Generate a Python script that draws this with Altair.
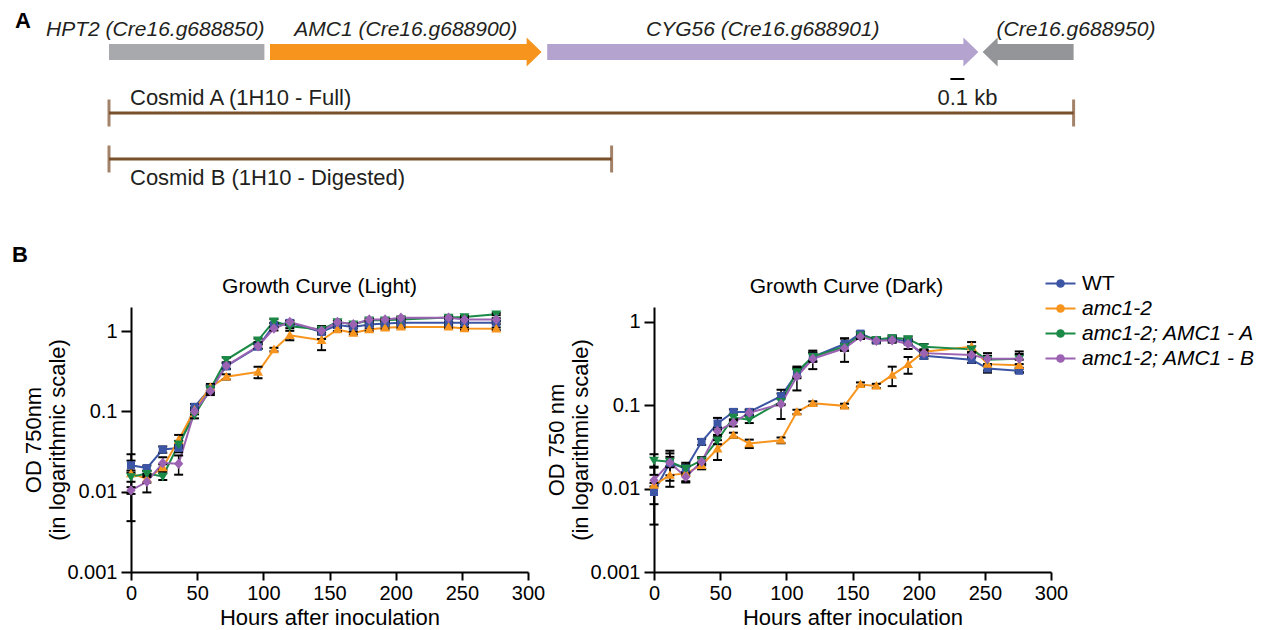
import altair as alt
import pandas as pd

FONT = "Liberation Sans"
INK = "#231F20"
BROWN = "#7A4F2B"

# ---------------- Panel A: gene map (positions in kb) ----------------
gene_names = ["HPT2 (Cre16.g688850)", "AMC1 (Cre16.g688900)",
              "CYG56 (Cre16.g688901)", "(Cre16.g688950)"]
gene_start_kb = [0.0, 1.15, 3.13, 6.24]
gene_end_kb = [1.11, 3.09, 6.21, 6.89]
gene_strand = ["none", "+", "+", "-"]
gene_colors = ["#A7A9AC", "#F7941D", "#B4A3CF", "#939598"]

cosmid_names = ["Cosmid A (1H10 - Full)", "Cosmid B (1H10 - Digested)"]
cosmid_start_kb = [0.0, 0.0]
cosmid_end_kb = [6.89, 3.59]

scalebar_start_kb = [6.01]
scalebar_length_kb = [0.1]
scalebar_label = ["0.1 kb"]

# ---------------- Panel B: growth curves ----------------
hours = [0, 12, 24, 36, 48, 60, 72, 96, 108, 120, 144, 156, 168, 180, 192, 204, 240, 252, 276]
strains = ["WT", "amc1-2", "amc1-2; AMC1 - A", "amc1-2; AMC1 - B"]
strain_colors = ["#3C55A5", "#F7941D", "#1B8A47", "#9C63B3"]

light_wt = [0.0214, 0.0197, 0.0335, 0.035, 0.114, 0.193, 0.366, 0.64, 1.19, 1.27, 0.98, 1.19, 1.13, 1.21, 1.25, 1.27, 1.27, 1.27, 1.27]
light_amc = [0.0168, 0.0145, 0.020, 0.044, 0.104, 0.20, 0.27, 0.31, 0.59, 0.89, 0.77, 1.05, 0.95, 1.05, 1.10, 1.13, 1.13, 1.08, 1.07]
light_a = [0.0153, 0.0168, 0.0155, 0.039, 0.090, 0.19, 0.44, 0.77, 1.33, 1.15, 1.05, 1.30, 1.22, 1.37, 1.37, 1.40, 1.48, 1.50, 1.63]
light_b = [0.0104, 0.0133, 0.0228, 0.0223, 0.100, 0.18, 0.37, 0.65, 1.08, 1.30, 1.01, 1.30, 1.22, 1.40, 1.40, 1.47, 1.47, 1.40, 1.40]

light_wt_sd = [0.003, 0.0015, 0.003, 0.004, 0.01, 0.02, 0.03, 0.04, 0.08, 0.08, 0.18, 0.05, 0.05, 0.05, 0.05, 0.05, 0.05, 0.05, 0.05]
light_amc_sd = [0.0125, 0.0015, 0.002, 0.007, 0.008, 0.02, 0.02, 0.05, 0.03, 0.12, 0.19, 0.05, 0.04, 0.04, 0.04, 0.04, 0.04, 0.04, 0.04]
light_a_sd = [0.002, 0.0015, 0.0015, 0.004, 0.008, 0.02, 0.03, 0.04, 0.08, 0.06, 0.08, 0.05, 0.05, 0.05, 0.05, 0.05, 0.05, 0.05, 0.05]
light_b_sd = [0.001, 0.0035, 0.004, 0.006, 0.008, 0.02, 0.03, 0.04, 0.06, 0.06, 0.10, 0.05, 0.05, 0.05, 0.05, 0.05, 0.05, 0.05, 0.05]

dark_wt = [0.0091, 0.0204, 0.0174, 0.0363, 0.0603, 0.083, 0.083, 0.128, 0.24, 0.38, 0.54, 0.72, 0.60, 0.63, 0.575, 0.39, 0.35, 0.275, 0.258]
dark_amc = [0.011, 0.0145, 0.0152, 0.019, 0.030, 0.0437, 0.0346, 0.038, 0.083, 0.105, 0.098, 0.177, 0.17, 0.229, 0.308, 0.436, 0.50, 0.31, 0.30]
dark_a = [0.0218, 0.021, 0.0174, 0.0218, 0.038, 0.071, 0.067, 0.11, 0.25, 0.38, 0.50, 0.69, 0.61, 0.64, 0.62, 0.50, 0.466, 0.35, 0.36]
dark_b = [0.0126, 0.0204, 0.0138, 0.021, 0.049, 0.0616, 0.081, 0.103, 0.22, 0.36, 0.48, 0.66, 0.59, 0.60, 0.54, 0.42, 0.40, 0.36, 0.36]

dark_wt_sd = [0.0026, 0.006, 0.003, 0.003, 0.01, 0.006, 0.006, 0.025, 0.03, 0.05, 0.09, 0.04, 0.04, 0.04, 0.04, 0.03, 0.03, 0.03, 0.015]
dark_amc_sd = [0.0073, 0.004, 0.003, 0.002, 0.008, 0.003, 0.004, 0.003, 0.005, 0.006, 0.006, 0.01, 0.01, 0.06, 0.07, 0.03, 0.07, 0.05, 0.05]
dark_a_sd = [0.004, 0.003, 0.002, 0.002, 0.004, 0.006, 0.006, 0.01, 0.03, 0.04, 0.05, 0.04, 0.04, 0.04, 0.04, 0.04, 0.04, 0.04, 0.05]
dark_b_sd = [0.002, 0.008, 0.002, 0.002, 0.005, 0.006, 0.006, 0.035, 0.07, 0.09, 0.15, 0.04, 0.04, 0.04, 0.07, 0.03, 0.03, 0.06, 0.08]

# marker glyphs: square, triangle-up, triangle-down, diamond
strain_shapes = [
    "M-0.5,-0.5L0.5,-0.5L0.5,0.5L-0.5,0.5Z",
    "M0,-0.62L0.62,0.46L-0.62,0.46Z",
    "M0,0.62L0.62,-0.46L-0.62,-0.46Z",
    "M0,-0.65L0.58,0L0,0.65L-0.58,0Z",
]
LINE_SYMBOL = "M-1.875,0L1.875,0"

# ---------------- tables ----------------
records = []
for cond, means, sds in [
    ("light", [light_wt, light_amc, light_a, light_b], [light_wt_sd, light_amc_sd, light_a_sd, light_b_sd]),
    ("dark", [dark_wt, dark_amc, dark_a, dark_b], [dark_wt_sd, dark_amc_sd, dark_a_sd, dark_b_sd]),
]:
    for s, m_list, sd_list in zip(strains, means, sds):
        for h, m, sd in zip(hours, m_list, sd_list):
            records.append({"cond": cond, "strain": s, "label": s, "hours": h,
                            "od": m, "lo": m - sd, "hi": m + sd})
growth_df = pd.DataFrame(records)

genes_df = pd.DataFrame({"gene": gene_names, "start": gene_start_kb, "end": gene_end_kb,
                         "strand": gene_strand, "order": list(range(len(gene_names)))})
genes_df["lane"] = "genes"
genes_df["mid"] = (genes_df["start"] + genes_df["end"]) / 2

cosmid_df = pd.DataFrame({"name": cosmid_names, "start": cosmid_start_kb, "end": cosmid_end_kb,
                          "lane": ["cosmidA", "cosmidB"]})

scale_df = pd.DataFrame({"start": scalebar_start_kb,
                         "end": [s + l for s, l in zip(scalebar_start_kb, scalebar_length_kb)],
                         "label": scalebar_label})
scale_df["mid"] = (scale_df["start"] + scale_df["end"]) / 2
scale_df["lane"] = "cosmidA"

# ---------------- Panel A chart ----------------
A_W, A_H = 1000, 185
PX_PER_KB = 140
KB_LEFT = 22 / PX_PER_KB
xA_scale = alt.Scale(domain=[KB_LEFT, KB_LEFT + A_W / PX_PER_KB], nice=False, zero=False)
yA = alt.Y("lane:N", scale=alt.Scale(type="point", domain=["genes", "cosmidA", "cosmidB"],
                                     range=[43, 150], padding=0), axis=None)


def XA(f):
    return alt.X(f"{f}:Q", scale=xA_scale, axis=None)


gcolor = alt.Color("gene:N", scale=alt.Scale(domain=gene_names, range=gene_colors), legend=None)
gbase = alt.Chart(genes_df)

body_plain = gbase.transform_filter("datum.strand == 'none'").mark_rule(
    strokeWidth=16, strokeCap="butt").encode(x=XA("start"), x2="end:Q", y=yA, color=gcolor)
body_fwd = gbase.transform_filter("datum.strand == '+'").mark_rule(
    strokeWidth=16, strokeCap="butt", x2Offset=-14).encode(x=XA("start"), x2="end:Q", y=yA, color=gcolor)
body_rev = gbase.transform_filter("datum.strand == '-'").mark_rule(
    strokeWidth=16, strokeCap="butt", xOffset=14).encode(x=XA("start"), x2="end:Q", y=yA, color=gcolor)
head_fwd = gbase.transform_filter("datum.strand == '+'").mark_point(
    shape="M0,0L-1,-0.967L-1,0.967Z", size=900, filled=True, opacity=1, strokeWidth=0
).encode(x=XA("end"), y=yA, color=gcolor)
head_rev = gbase.transform_filter("datum.strand == '-'").mark_point(
    shape="M0,0L1,-0.967L1,0.967Z", size=900, filled=True, opacity=1, strokeWidth=0
).encode(x=XA("start"), y=yA, color=gcolor)

n_genes = len(gene_names)
tprops = dict(font=FONT, fontSize=21, fontStyle="italic", color=INK, baseline="middle", dy=-22)
lab_first = gbase.transform_filter(alt.datum.order == 0).mark_text(align="right", **tprops).encode(
    x=XA("end"), y=yA, text="gene:N")
lab_mid = gbase.transform_filter(f"datum.order > 0 && datum.order < {n_genes - 1}").mark_text(
    align="center", **tprops).encode(x=XA("mid"), y=yA, text="gene:N")
lab_last = gbase.transform_filter(alt.datum.order == n_genes - 1).mark_text(
    align="left", dx=14, **tprops).encode(x=XA("start"), y=yA, text="gene:N")


def cosmid_layers(lane, yoff, label_dy):
    base = alt.Chart(cosmid_df).transform_filter(alt.datum.lane == lane)
    line = base.mark_rule(color=BROWN, strokeWidth=3, yOffset=yoff, y2Offset=yoff).encode(
        x=XA("start"), x2="end:Q", y=yA)
    caps = base.transform_fold(["start", "end"], as_=["edge", "pos"]).mark_tick(
        color=BROWN, orient="vertical", size=27, thickness=3, yOffset=yoff).encode(x=XA("pos"), y=yA)
    text = base.mark_text(align="left", baseline="middle", dx=21, dy=label_dy, font=FONT,
                          fontSize=22, color=INK).encode(x=XA("start"), y=yA, text="name:N")
    return [line, caps, text]


sbase = alt.Chart(scale_df)
sbar = sbase.mark_rule(color="black", strokeWidth=2, yOffset=-26.5, y2Offset=-26.5).encode(
    x=XA("start"), x2="end:Q", y=yA)
slab = sbase.mark_text(font=FONT, fontSize=22, color=INK, baseline="middle", dx=10, dy=-7.5).encode(
    x=XA("mid"), y=yA, text="label:N")

panelA = alt.layer(
    body_plain, body_fwd, body_rev, head_fwd, head_rev, lab_first, lab_mid, lab_last,
    *cosmid_layers("cosmidA", 7.5, -7.5), *cosmid_layers("cosmidB", 0, 19), sbar, slab
).properties(width=A_W, height=A_H,
             title=alt.Title("A", anchor="start", dx=-31, offset=-24, fontSize=22, fontWeight="bold"))

# ---------------- Panel B charts ----------------
LEG_X, LEG_Y = 919, -34
leg_lines = alt.Legend(orient="none", legendX=LEG_X, legendY=LEG_Y, title=None,
                       symbolType=LINE_SYMBOL, symbolSize=256, symbolStrokeWidth=2,
                       labelFont=FONT, labelFontSize=21, labelColor="black", labelOffset=11,
                       rowPadding=3, padding=0, labelLimit=0,
                       labelFontStyle={"expr": "datum.value === 'WT' ? 'normal' : 'italic'"})
leg_pts = alt.Legend(orient="none", legendX=LEG_X, legendY=LEG_Y, title=None, symbolType="circle",
                     symbolSize=75, symbolStrokeWidth=0, labelFont=FONT, labelFontSize=21,
                     labelOpacity=0, labelOffset=11, rowPadding=3, padding=0, labelLimit=0)


def growth(cond, title_text, title_dx, y_title, y_max):
    base = alt.Chart(growth_df).transform_filter(alt.datum.cond == cond)
    xs = alt.Scale(domain=[0, 300], nice=False, zero=False)
    ys = alt.Scale(type="log", domain=[0.001, y_max], nice=False)
    xax = alt.Axis(values=[0, 50, 100, 150, 200, 250, 300], title="Hours after inoculation", format="d")
    yax = alt.Axis(values=[0.001, 0.01, 0.1, 1], labelExpr="'' + datum.value", title=y_title)

    def X(f):
        return alt.X(f"{f}:Q", scale=xs, axis=xax)

    def Y(f):
        return alt.Y(f"{f}:Q", scale=ys, axis=yax)

    lines = base.mark_line(strokeWidth=2).encode(
        x=X("hours"), y=Y("od"),
        stroke=alt.Stroke("strain:N", scale=alt.Scale(domain=strains, range=strain_colors),
                          legend=leg_lines))
    bars = base.mark_rule(color="black", strokeWidth=1.5).encode(x=X("hours"), y=Y("lo"), y2="hi:Q")
    caps = base.transform_fold(["lo", "hi"], as_=["edge", "val"]).mark_tick(
        color="black", orient="horizontal", size=9, thickness=2, opacity=1).encode(x=X("hours"), y=Y("val"))
    pts = base.mark_point(filled=True, size=256, opacity=1, strokeWidth=0).encode(
        x=X("hours"), y=Y("od"),
        color=alt.Color("label:N", sort=strains, scale=alt.Scale(range=strain_colors), legend=leg_pts),
        shape=alt.Shape("label:N", sort=strains, scale=alt.Scale(range=strain_shapes), legend=None))
    return alt.layer(lines, bars, caps, pts).properties(
        width=397, height=265,
        title=alt.Title(title_text, fontSize=21, fontWeight="normal", offset=10, dx=title_dx))


light = growth("light", "Growth Curve (Light)", -10, ["OD 750nm", "(in logarithmic scale)"], 2.0)
dark = growth("dark", "Growth Curve (Dark)", -6, ["OD 750 nm", "(in logarithmic scale)"], 1.5)

panelB = alt.hconcat(
    light, dark, spacing=0,
    title=alt.Title("B", anchor="start", dx=-11, fontSize=22, fontWeight="bold", offset=6)
)

chart = alt.vconcat(panelA, panelB, spacing=50).resolve_scale(
    color="independent", stroke="independent", shape="independent"
).properties(
    padding={"left": 3, "top": 1, "right": 0, "bottom": 0}
).configure_view(stroke=None).configure_axis(
    domainColor="black", domainWidth=2, tickColor="black", tickWidth=2,
    labelFont=FONT, labelFontSize=20, labelColor="black",
    titleFont=FONT, titleFontSize=22, titleFontWeight="normal", titleColor="black",
    grid=False, labelFlush=False
).configure_axisX(tickSize=8, labelPadding=3, titlePadding=4
).configure_axisY(tickSize=10, labelPadding=4, titlePadding=-3, titleLineHeight=24
).configure_title(font=FONT, color="black")

chart.save("out.html", embed_options={"renderer": "svg", "actions": False})
